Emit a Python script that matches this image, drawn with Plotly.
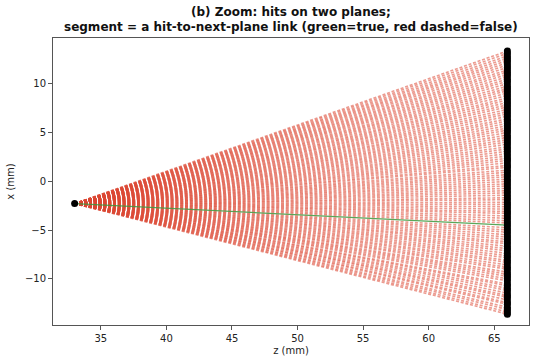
import plotly.graph_objects as go

# Data
z_plane1 = 33.0
z_plane2 = 66.0
hit1_x = -2.3
plane2_x = [-13.6, -13.38, -13.12, -12.9, -12.6, -12.42, -12.15, -11.88, -11.7, -11.45,
            -11.18, -10.96, -10.7, -10.52, -10.2, -9.98, -9.74, -9.52, -9.3, -9.0,
            -8.8, -8.56, -8.3, -8.1, -7.84, -7.62, -7.38, -7.12, -6.9, -6.66,
            -6.4, -6.2, -5.95, -5.72, -5.48, -5.22, -5.0, -4.76, -4.5, -4.28,
            -4.05, -3.8, -3.56, -3.3, -3.1, -2.86, -2.62, -2.38, -2.16, -1.9,
            -1.7, -1.44, -1.2, -0.98, -0.74, -0.5, -0.28, -0.04, 0.2, 0.44,
            0.66, 0.9, 1.12, 1.4, 1.6, 1.86, 2.1, 2.32, 2.56, 2.8,
            3.04, 3.28, 3.5, 3.76, 4.0, 4.22, 4.46, 4.7, 4.96, 5.2,
            5.42, 5.66, 5.9, 6.14, 6.36, 6.62, 6.86, 7.08, 7.32, 7.58,
            7.8, 8.04, 8.28, 8.5, 8.76, 9.0, 9.24, 9.46, 9.7, 9.96,
            10.2, 10.42, 10.66, 10.9, 11.14, 11.36, 11.62, 11.86, 12.1, 12.32,
            12.56, 12.8, 13.06, 13.3]
true_x = -4.5
title_lines = ["(b) Zoom: hits on two planes;",
               "segment = a hit-to-next-plane link (green=true, red dashed=false)"]

fig = go.Figure()

for x2 in plane2_x:
    if x2 == true_x:
        continue
    fig.add_trace(go.Scatter(
        x=[z_plane1, z_plane2], y=[hit1_x, x2], mode="lines",
        line=dict(color="rgba(220,72,52,0.55)", width=1.6, dash="3px,1.8px"),
        hoverinfo="skip", showlegend=False))

fig.add_trace(go.Scatter(
    x=[z_plane1, z_plane2], y=[hit1_x, true_x], mode="lines",
    line=dict(color="rgba(60,150,60,0.85)", width=1.3),
    showlegend=False))

fig.add_trace(go.Scatter(
    x=[z_plane2] * len(plane2_x), y=plane2_x, mode="markers",
    marker=dict(color="black", size=7, line=dict(width=0)),
    showlegend=False))
fig.add_trace(go.Scatter(
    x=[z_plane1], y=[hit1_x], mode="markers",
    marker=dict(color="black", size=7, line=dict(width=0)),
    showlegend=False))

axis_common = dict(
    showgrid=False, zeroline=False, showline=True, mirror=True,
    linecolor="#555", linewidth=1, ticks="outside", ticklen=4,
    tickcolor="#555", tickfont=dict(size=10, color="#222"), automargin=False,
)

fig.update_layout(
    width=542, height=359,
    margin=dict(l=53, r=13, t=38, b=34),
    paper_bgcolor="white", plot_bgcolor="white",
    font=dict(family="DejaVu Sans", color="#222"),
    xaxis=dict(range=[31.35, 67.65], tickvals=[35, 40, 45, 50, 55, 60, 65],
               title=dict(text="z (mm)", font=dict(size=10), standoff=3),
               **axis_common),
    yaxis=dict(range=[-14.71, 14.63], tickvals=[-10, -5, 0, 5, 10],
               ticktext=["\u221210", "\u22125", "0", "5", "10"],
               title=dict(text="x (mm)", font=dict(size=10), standoff=8),
               **axis_common),
)

for i, (txt, ypx) in enumerate(zip(title_lines, [12, 27])):
    fig.add_annotation(
        text="<b>" + txt + "</b>", xref="paper", yref="paper",
        x=(291 - 53) / (542 - 53 - 13), y=1 + (38 - ypx) / (359 - 38 - 34),
        xanchor="center", yanchor="middle", showarrow=False,
        font=dict(size=12, color="#111", family="DejaVu Sans"))

fig.write_html("out.html", config={"displayModeBar": False},
               post_script="document.body.style.margin='0';document.body.style.overflow='hidden';")
